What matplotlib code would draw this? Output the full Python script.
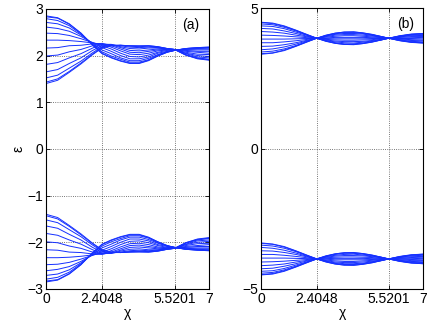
import numpy as np
import matplotlib
matplotlib.use('Agg')
import matplotlib.pyplot as plt

# chi sample points (columns of the band tables)
chi = [0, 0.5, 1.0, 1.5, 2.0, 2.4048, 2.8, 3.2, 3.6, 4.0, 4.4, 4.8, 5.2, 5.5201, 6.0, 6.5, 7.0]

# panel (a): upper band, one row per chi value, one column per curve
band_a = [
    [2.85, 2.83, 2.79, 2.71, 2.61, 2.48, 2.33, 2.16, 1.99, 1.81, 1.65, 1.52, 1.43, 1.40],
    [2.81, 2.80, 2.75, 2.68, 2.58, 2.47, 2.33, 2.17, 2.01, 1.85, 1.70, 1.58, 1.50, 1.47],
    [2.68, 2.67, 2.64, 2.59, 2.52, 2.43, 2.32, 2.21, 2.08, 1.95, 1.83, 1.73, 1.66, 1.64],
    [2.48, 2.48, 2.46, 2.44, 2.41, 2.36, 2.30, 2.22, 2.13, 2.04, 1.95, 1.88, 1.84, 1.82],
    [2.22, 2.23, 2.24, 2.26, 2.27, 2.28, 2.27, 2.25, 2.21, 2.16, 2.11, 2.06, 2.03, 2.02],
    [2.04, 2.05, 2.08, 2.12, 2.17, 2.21, 2.24, 2.26, 2.25, 2.24, 2.21, 2.19, 2.17, 2.16],
    [1.95, 1.96, 1.99, 2.04, 2.09, 2.14, 2.18, 2.21, 2.23, 2.24, 2.23, 2.22, 2.21, 2.21],
    [1.88, 1.89, 1.92, 1.95, 2.00, 2.05, 2.10, 2.14, 2.17, 2.19, 2.21, 2.22, 2.22, 2.22],
    [1.83, 1.84, 1.86, 1.89, 1.93, 1.98, 2.03, 2.07, 2.11, 2.15, 2.18, 2.20, 2.21, 2.21],
    [1.83, 1.84, 1.86, 1.89, 1.93, 1.97, 2.02, 2.06, 2.10, 2.14, 2.17, 2.19, 2.20, 2.21],
    [1.89, 1.90, 1.91, 1.94, 1.97, 2.01, 2.05, 2.09, 2.12, 2.16, 2.18, 2.20, 2.21, 2.21],
    [1.99, 1.99, 2.01, 2.02, 2.05, 2.07, 2.10, 2.12, 2.14, 2.16, 2.17, 2.18, 2.19, 2.19],
    [2.07, 2.07, 2.08, 2.08, 2.09, 2.11, 2.12, 2.13, 2.13, 2.14, 2.14, 2.15, 2.15, 2.15],
    [2.11, 2.11, 2.11, 2.11, 2.11, 2.12, 2.12, 2.12, 2.12, 2.13, 2.13, 2.13, 2.13, 2.13],
    [2.15, 2.15, 2.15, 2.14, 2.13, 2.12, 2.11, 2.09, 2.07, 2.05, 2.04, 2.02, 2.01, 2.01],
    [2.17, 2.17, 2.16, 2.15, 2.14, 2.12, 2.09, 2.07, 2.03, 2.00, 1.97, 1.95, 1.94, 1.93],
    [2.18, 2.18, 2.17, 2.16, 2.14, 2.12, 2.09, 2.05, 2.02, 1.98, 1.95, 1.92, 1.91, 1.90],
]

# panel (b): upper band
band_b = [
    [4.50, 4.49, 4.44, 4.37, 4.28, 4.17, 4.04, 3.90, 3.77, 3.64, 3.52, 3.44, 3.38, 3.36],
    [4.47, 4.45, 4.41, 4.35, 4.26, 4.15, 4.03, 3.90, 3.77, 3.65, 3.55, 3.47, 3.41, 3.40],
    [4.37, 4.35, 4.32, 4.27, 4.19, 4.11, 4.01, 3.90, 3.80, 3.70, 3.62, 3.55, 3.51, 3.49],
    [4.22, 4.21, 4.19, 4.15, 4.10, 4.04, 3.98, 3.91, 3.84, 3.77, 3.72, 3.67, 3.65, 3.64],
    [4.06, 4.05, 4.04, 4.03, 4.00, 3.98, 3.95, 3.92, 3.89, 3.86, 3.84, 3.82, 3.81, 3.80],
    [3.93, 3.93, 3.93, 3.93, 3.93, 3.93, 3.93, 3.93, 3.93, 3.93, 3.93, 3.93, 3.93, 3.93],
    [3.82, 3.83, 3.84, 3.85, 3.87, 3.89, 3.92, 3.94, 3.97, 3.99, 4.01, 4.02, 4.03, 4.04],
    [3.75, 3.75, 3.77, 3.80, 3.83, 3.87, 3.91, 3.96, 4.00, 4.04, 4.07, 4.09, 4.11, 4.11],
    [3.71, 3.71, 3.73, 3.77, 3.81, 3.86, 3.91, 3.96, 4.02, 4.06, 4.10, 4.13, 4.15, 4.15],
    [3.70, 3.71, 3.73, 3.76, 3.81, 3.86, 3.91, 3.96, 4.02, 4.06, 4.10, 4.13, 4.15, 4.16],
    [3.74, 3.74, 3.76, 3.79, 3.82, 3.87, 3.91, 3.96, 4.00, 4.04, 4.08, 4.10, 4.12, 4.12],
    [3.79, 3.80, 3.81, 3.83, 3.85, 3.88, 3.92, 3.95, 3.98, 4.01, 4.03, 4.05, 4.06, 4.07],
    [3.87, 3.87, 3.87, 3.88, 3.89, 3.91, 3.92, 3.94, 3.95, 3.97, 3.98, 3.99, 3.99, 3.99],
    [3.93, 3.93, 3.93, 3.93, 3.93, 3.93, 3.93, 3.93, 3.93, 3.93, 3.93, 3.93, 3.93, 3.93],
    [4.02, 4.01, 4.01, 3.99, 3.98, 3.96, 3.94, 3.92, 3.90, 3.88, 3.87, 3.85, 3.85, 3.84],
    [4.08, 4.07, 4.06, 4.04, 4.02, 3.99, 3.95, 3.92, 3.88, 3.85, 3.82, 3.80, 3.79, 3.78],
    [4.10, 4.10, 4.08, 4.06, 4.03, 3.99, 3.96, 3.91, 3.87, 3.84, 3.80, 3.78, 3.76, 3.76],
]

xticks = [0, 2.4048, 5.5201, 7]
xticklabels = ['0', '2.4048', '5.5201', '7']
yticks_a = [-3, -2, -1, 0, 1, 2, 3]
yticks_b = [-5, 0, 5]
panel_labels = ['(a)', '(b)']

plt.rcParams['font.family'] = ['Liberation Sans', 'DejaVu Sans']
plt.rcParams['font.size'] = 10

fig = plt.figure(figsize=(4.36, 3.28), dpi=100)

axes_rects = [[0.1055, 0.119, 0.374, 0.854], [0.599, 0.119, 0.371, 0.856]]
bands = [band_a, band_b]
yticks_all = [yticks_a, yticks_b]

for i in range(2):
    ax = fig.add_axes(axes_rects[i])
    e = np.array(bands[i])
    ax.plot(chi, e, color='#1530ff', lw=0.7)
    ax.plot(chi, -e, color='#1530ff', lw=0.7)
    yt = yticks_all[i]
    ax.set_xlim(0, 7)
    ax.set_ylim(yt[0], yt[-1])
    ax.set_xticks(xticks)
    ax.set_xticklabels(xticklabels)
    ax.set_yticks(yt)
    ax.grid(True, color='k', ls=':', lw=0.6, alpha=0.7)
    ax.tick_params(direction='in', top=True, right=True, length=3, width=0.6, pad=2)
    for s in ax.spines.values():
        s.set_linewidth(0.8)
    ax.set_xlabel('χ', labelpad=0)
    ax.text(0.89, 0.943, panel_labels[i], transform=ax.transAxes, ha='center', va='center')
    if i == 0:
        ax.set_ylabel('ε', labelpad=1)

fig.savefig('out.png', dpi=100)
